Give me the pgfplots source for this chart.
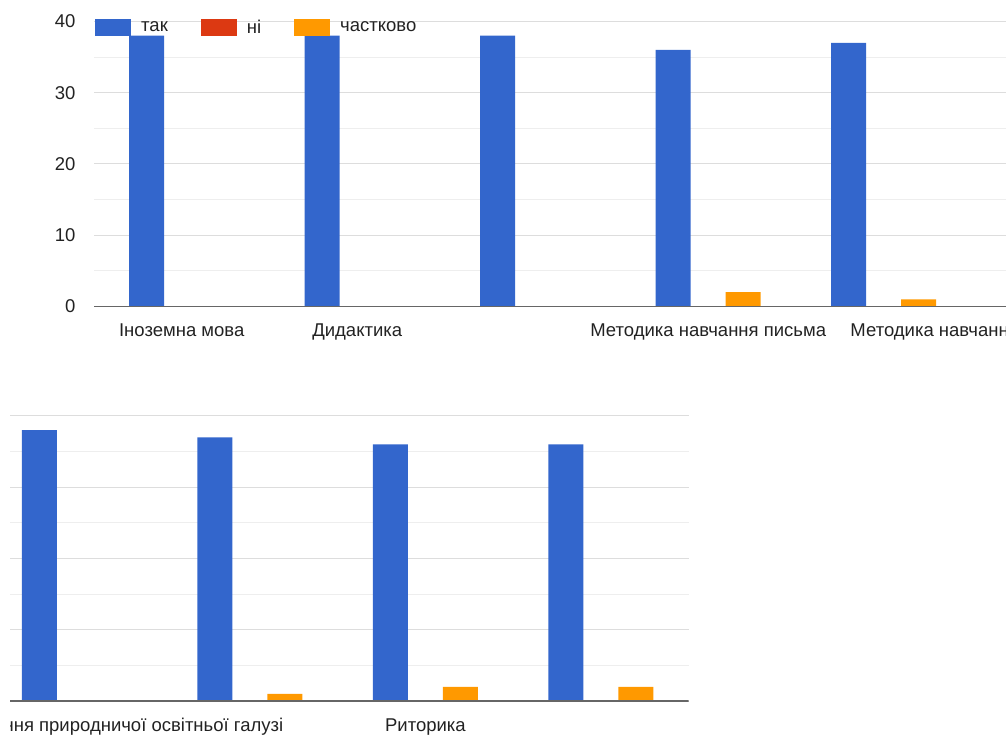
\documentclass[border=0pt]{standalone}
\usepackage{fontspec}
\setmainfont{Liberation Sans}
\usepackage{pgfplots}
\pgfplotsset{compat=1.18}
\usepackage{pgfplotstable}
\definecolor{cblue}{HTML}{3366CC}
\definecolor{cred}{HTML}{DC3912}
\definecolor{corange}{HTML}{FF9900}
\definecolor{ctext}{HTML}{222222}
\definecolor{cgrid}{HTML}{DDDDDD}
\definecolor{cminor}{HTML}{EEEEEE}
\definecolor{cbase}{HTML}{666666}

\pgfplotstableread{
idx tak ni chast
0 38 0 0
1 38 0 0
2 38 0 0
3 36 0 2
4 37 0 1
5 38 0 0
6 37 0 1
7 36 0 2
8 36 0 2
}\datatable

\newcommand{\lblfont}{\fontsize{18.5}{22}\selectfont}

\pgfplotsset{chartstyle/.style={
  scale only axis, width=1579.5pt, height=285pt,
  anchor=south west,
  xmin=-0.5, xmax=8.5, ymin=0, ymax=40,
  axis line style={draw=none},
  major tick length=0pt, minor tick length=0pt,
  ytick={0,10,20,30,40},
  minor ytick={5,15,25,35},
  ymajorgrids, yminorgrids,
  major grid style={draw=cgrid, line width=1pt},
  minor grid style={draw=cminor, line width=1pt},
  xtick={0,1,3,5,7},
  xticklabels={Іноземна мова, Дидактика, Методика навчання письма, Методика навчання природничої освітньої галузі, Риторика},
  tick label style={font=\lblfont, text=ctext},
  /pgf/number format/assume math mode=true,
  yticklabel style={xshift=-15pt},
  xticklabel style={yshift=-13pt, text height=13.5pt, text depth=4pt},
  ybar=0pt, bar width=35pt,
}}

\begin{document}
\begin{tikzpicture}
\begin{scope}
\clip (0pt,368pt) rectangle (1006pt,736pt);
\begin{axis}[chartstyle, at={(94pt,429.5pt)},
  legend columns=3,
  legend style={at={(rel axis cs:0,1)}, anchor=north west, yshift=4pt, xshift=1pt,
    draw=none, fill=none, inner sep=0pt, font=\lblfont, text=ctext,
    /tikz/every odd column/.append style={column sep=8pt},
    /tikz/every even column/.append style={column sep=31pt}},
  legend image code/.code={\fill[#1] (0pt,-8.5pt) rectangle (36pt,8.5pt);},
]
\addplot[fill=cblue, draw=none] table[x=idx,y=tak]{\datatable};
\addplot[fill=cred, draw=none] table[x=idx,y=ni]{\datatable};
\addplot[fill=corange, draw=none] table[x=idx,y=chast]{\datatable};
\legend{так, ні, частково}
\draw[cbase, line width=1.5pt] (axis cs:-0.5,0) -- (axis cs:8.5,0);
\end{axis}
\end{scope}
\begin{scope}
\clip (10pt,0pt) rectangle (700pt,368pt);
\begin{axis}[chartstyle, at={(-890.75pt,35pt)}]
\addplot[fill=cblue, draw=none] table[x=idx,y=tak]{\datatable};
\addplot[fill=cred, draw=none] table[x=idx,y=ni]{\datatable};
\addplot[fill=corange, draw=none] table[x=idx,y=chast]{\datatable};
\draw[cbase, line width=1.5pt] (axis cs:-0.5,0) -- (axis cs:8.5,0);
\end{axis}
\end{scope}
\pgfresetboundingbox
\path[use as bounding box] (0pt,0pt) rectangle (1006pt,736pt);
\end{tikzpicture}
\end{document}
